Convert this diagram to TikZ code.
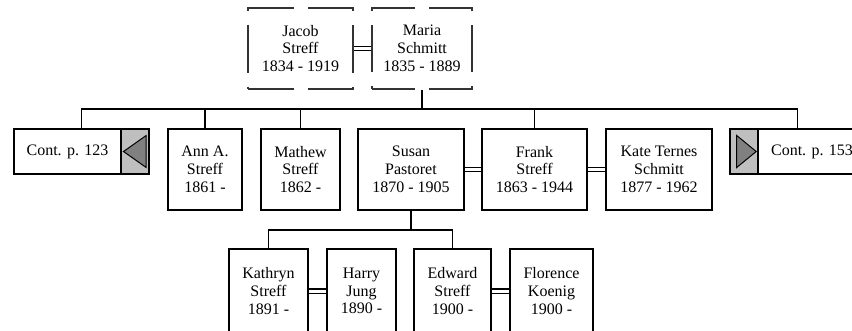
\documentclass[tikz,border=0pt]{standalone}
\usepackage{fontspec}
\setmainfont{Liberation Serif}
\usetikzlibrary{positioning}

\begin{document}
\begin{tikzpicture}[x=1pt,y=-1pt,
  every node/.style={font=\fontsize{16}{17.8}\selectfont, align=center, inner sep=0pt},
  person/.style={draw, line width=1.6pt, minimum height=81pt, minimum width=#1},
  parent/.style={draw=black!80, line width=1.2pt, minimum height=81pt, minimum width=#1},
  link/.style={line width=1.6pt},
  marriage/.style={double, line width=1.3pt, double distance=3pt},
  contbox/.style={draw, line width=1.6pt, minimum width=135pt, minimum height=45pt},
  panel/.style={draw, line width=1.6pt, fill=black!25, minimum width=28pt, minimum height=45pt},
  pointer/.style={draw, line width=1pt, fill=black!50},
]
  \fill[white] (0,0) rectangle (852,330);
  \useasboundingbox (0,0) rectangle (852,330);

  \node[parent=105pt, dash pattern=on 48pt off 14pt, dash phase=2.5pt] (jacob) at (300.5,48.5) {Jacob\\Streff\\1834 - 1919};
  \node[parent=100pt, dash pattern=on 46.33pt off 14pt, dash phase=3.33pt] (maria) at (422,48.5) {Maria\\Schmitt\\1835 - 1889};

  \node[contbox] (cont1) at (81.5,151.5) {};
  \node[panel, anchor=east] (cont1panel) at (cont1.east) {};
  \node (cont1label) at (67.5,151.5) {Cont. p. 123};
  \filldraw[pointer] (cont1panel.west) ++(3.3,0) -- ++(22.7,-16) -- ++(0,32) -- cycle;

  \node[person=74pt] (ann) at (205,169.5) {Ann A.\\Streff\\1861 -};
  \node[person=79pt] (mathew) at (300.5,169.5) {Mathew\\Streff\\1862 -};
  \node[person=106pt] (susan) at (411,169.5) {Susan\\Pastoret\\1870 - 1905};
  \node[person=105pt] (frank) at (534.5,169.5) {Frank\\Streff\\1863 - 1944};
  \node[person=106pt] (kate) at (659,169.5) {Kate Ternes\\Schmitt\\1877 - 1962};

  \node[contbox] (cont2) at (797.5,151.5) {};
  \node[panel, anchor=west] (cont2panel) at (cont2.west) {};
  \node (cont2label) at (812,151.5) {Cont. p. 153};
  \filldraw[pointer] (cont2panel.west) ++(7.5,-16) -- ++(19.5,16) -- ++(-19.5,16) -- cycle;

  \node[person=79pt, minimum height=84pt] (kathryn) at (268.5,291) {Kathryn\\Streff\\1891 -};
  \node[person=69pt, minimum height=84pt] (harry) at (361.5,291) {Harry\\Jung\\1890 -};
  \node[person=77pt, minimum height=84pt] (edward) at (452.5,291) {Edward\\Streff\\1900 -};
  \node[person=83pt, minimum height=84pt] (florence) at (551.5,291) {Florence\\Koenig\\1900 -};

  \path (maria.south) ++(0,19.5) coordinate (sibbus);
  \draw[link] (maria.south) -- (sibbus);
  \draw[link] (cont1.north) |- (sibbus) -| (cont2.north);
  \foreach \n in {ann,mathew,frank}
    \draw[link] (\n.north) -- (\n.north |- sibbus);

  \path (susan.south) ++(0,19) coordinate (kidbus);
  \draw[link] (susan.south) -- (kidbus);
  \draw[link] (kathryn.north) |- (kidbus) -| (edward.north);

  \draw[marriage] (jacob.east) -- (maria.west);
  \draw[marriage] (susan.east) -- (frank.west);
  \draw[marriage] (frank.east) -- (kate.west);
  \draw[marriage] (kathryn.east) -- (harry.west);
  \draw[marriage] (edward.east) -- (florence.west);
\end{tikzpicture}
\end{document}
